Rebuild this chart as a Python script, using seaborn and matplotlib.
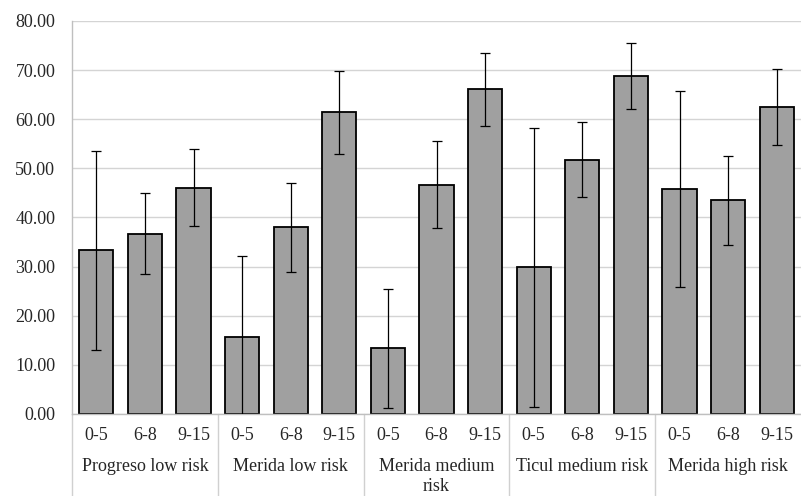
import pandas as pd
import matplotlib
matplotlib.use("Agg")
import matplotlib.pyplot as plt
import matplotlib.transforms as mtransforms
import seaborn as sns

# data
groups = ["Progreso low risk", "Merida low risk", "Merida medium\nrisk",
          "Ticul medium risk", "Merida high risk"]
ages = ["0-5", "6-8", "9-15"]
means = [33.3, 36.7, 46.1,
         15.7, 38.0, 61.4,
         13.4, 46.7, 66.1,
         29.9, 51.8, 68.8,
         45.8, 43.5, 62.5]
errors = [20.2, 8.3, 7.8,
          16.4, 9.0, 8.4,
          12.1, 8.8, 7.4,
          28.4, 7.6, 6.7,
          19.9, 9.0, 7.7]

slots = [f"{g} {a}" for g in groups for a in ages]
df = pd.DataFrame({"slot": slots, "value": means})

sns.set_style("white")
plt.rcParams["font.family"] = ["Liberation Serif", "DejaVu Serif"]

fig = plt.figure(figsize=(8.01, 4.96), dpi=100)
ax = fig.add_axes([72 / 801, 82 / 496, 729 / 801, 393 / 496])

sns.barplot(data=df, x="slot", y="value", order=slots, color="#a0a0a0",
            saturation=1, edgecolor="black", linewidth=1.3, width=0.7,
            errorbar=None, ax=ax, zorder=2)
ax.errorbar(range(len(slots)), means, yerr=errors, fmt="none",
            ecolor="black", elinewidth=0.9, capsize=3.5, capthick=0.9, zorder=3)

ax.set_xlim(-0.5, len(slots) - 0.5)
ax.set_ylim(0, 80)
ax.set_yticks(range(0, 81, 10))
ax.set_yticklabels([f"{v:.2f}" for v in range(0, 81, 10)], fontsize=13)
ax.yaxis.grid(True, color="#d4d4d4", linewidth=1, zorder=0)
ax.set_axisbelow(True)
ax.set_xticks(range(len(slots)))
ax.set_xticklabels(ages * len(groups), fontsize=13)
ax.tick_params(axis="x", length=0, pad=9)
ax.tick_params(axis="y", length=0, pad=12)
ax.set_xlabel("")
ax.set_ylabel("")

for side in ["top", "right"]:
    ax.spines[side].set_visible(False)
for side in ["left", "bottom"]:
    ax.spines[side].set_color("#bfbfbf")
    ax.spines[side].set_linewidth(1)

# second level of x labels and separators
trans = mtransforms.blended_transform_factory(ax.transData, ax.transAxes)
for i, g in enumerate(groups):
    ax.text(i * 3 + 1, -0.113, g, transform=trans, ha="center", va="top",
            fontsize=13, linespacing=1.22)
    ax.plot([i * 3 - 0.5, i * 3 - 0.5], [0, -0.21], transform=trans,
            color="#d0d0d0", linewidth=1, clip_on=False)

fig.savefig("out.png", dpi=100)
